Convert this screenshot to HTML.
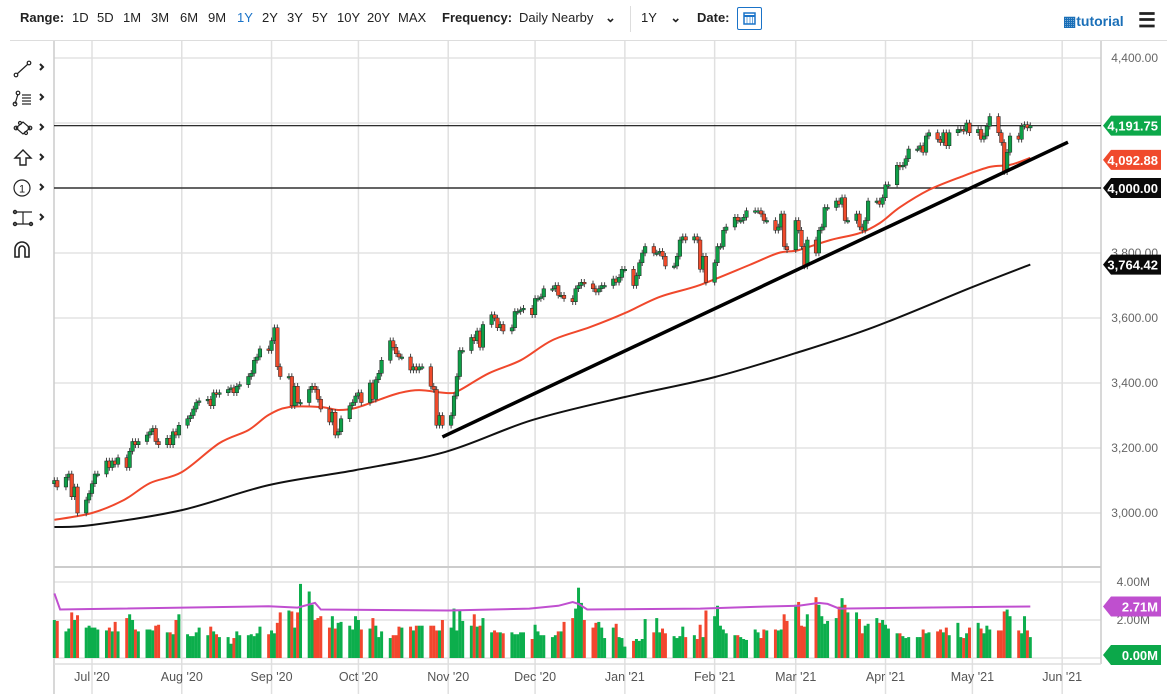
<!DOCTYPE html>
<html><head><meta charset="utf-8"><style>
body{margin:0;background:#fff;width:1167px;height:694px;overflow:hidden;font-family:"Liberation Sans Narrow","Liberation Sans",sans-serif;}
#wrap{position:relative;width:1167px;height:694px;}
.tb{position:absolute;top:10px;font-size:13px;color:#222;}
.b{font-weight:bold;}
svg text{font-family:"Liberation Sans Narrow","Liberation Sans",sans-serif;}
</style></head><body><div id="wrap">
<div class="tb b" style="left:20px">Range:</div>
<div class="tb" style="left:72px">1D</div>
<div class="tb" style="left:97px">5D</div>
<div class="tb" style="left:123px">1M</div>
<div class="tb" style="left:151px">3M</div>
<div class="tb" style="left:180px">6M</div>
<div class="tb" style="left:208px">9M</div>
<div class="tb" style="left:237px;color:#1a73c8">1Y</div>
<div class="tb" style="left:262px">2Y</div>
<div class="tb" style="left:287px">3Y</div>
<div class="tb" style="left:312px">5Y</div>
<div class="tb" style="left:337px">10Y</div>
<div class="tb" style="left:367px">20Y</div>
<div class="tb" style="left:398px">MAX</div>
<div class="tb b" style="left:442px">Frequency:</div>
<div class="tb" style="left:519px">Daily Nearby <span style="margin-left:8px;font-weight:bold">&#8964;</span></div>
<div style="position:absolute;left:630px;top:6px;width:1px;height:26px;background:#ddd"></div>
<div class="tb" style="left:641px">1Y <span style="margin-left:10px;font-weight:bold">&#8964;</span></div>
<div class="tb b" style="left:697px">Date:</div>
<div style="position:absolute;left:737px;top:7px;width:25px;height:23px;border:1px solid #1a73c8;border-radius:2px;box-sizing:border-box">
<svg width="23" height="21"><rect x="6" y="5" width="11" height="11" fill="none" stroke="#1a73c8" stroke-width="1.5"/><line x1="6" y1="8" x2="17" y2="8" stroke="#1a73c8" stroke-width="2"/><line x1="9" y1="8" x2="9" y2="16" stroke="#1a73c8" stroke-width=".6"/><line x1="12" y1="8" x2="12" y2="16" stroke="#1a73c8" stroke-width=".6"/><line x1="14.5" y1="8" x2="14.5" y2="16" stroke="#1a73c8" stroke-width=".6"/></svg></div>
<div class="tb b" style="left:1063px;top:13px;color:#1a6fb8;font-size:14px">&#9638;tutorial</div>
<div class="tb b" style="left:1138px;top:8px;font-size:20px">&#9776;</div>
<div style="position:absolute;left:10px;top:40px;width:1157px;height:1px;background:#ddd"></div>
<svg id="tools" style="position:absolute;left:0;top:0" width="54" height="694">
<g stroke="#222" fill="none" stroke-width="1.2">
<g><line x1="17" y1="74" x2="28" y2="64"/><circle cx="16" cy="75" r="1.8"/><circle cx="29" cy="63" r="1.8"/><path d="M40 64 l3 3 -3 3" stroke-width="2"/></g>
<g><line x1="15" y1="104" x2="18" y2="94"/><circle cx="15" cy="104" r="1.8"/><circle cx="18" cy="93" r="1.8"/><line x1="22" y1="95" x2="31" y2="95"/><line x1="22" y1="98" x2="31" y2="98"/><line x1="22" y1="101" x2="31" y2="101"/><line x1="22" y1="104" x2="31" y2="104"/><path d="M40 94 l3 3 -3 3" stroke-width="2"/></g>
<g><path d="M16 128 l7 -6 7 6 -7 6z"/><circle cx="16" cy="128" r="1.8"/><circle cx="30" cy="128" r="1.8"/><circle cx="20" cy="123" r="1.5"/><circle cx="26" cy="133" r="1.5"/><path d="M40 124 l3 3 -3 3" stroke-width="2"/></g>
<g><path d="M23 150 l-8 8 h5 v7 h6 v-7 h5z" stroke-width="1.4"/><path d="M40 154 l3 3 -3 3" stroke-width="2"/></g>
<g><circle cx="22" cy="188" r="8"/><path d="M40 184 l3 3 -3 3" stroke-width="2"/></g>
<g><line x1="14" y1="212" x2="32" y2="212"/><line x1="14" y1="224" x2="32" y2="224"/><line x1="23" y1="212" x2="23" y2="224"/><circle cx="15" cy="212" r="1.6"/><circle cx="15" cy="224" r="1.6"/><circle cx="31" cy="224" r="1.6"/><path d="M40 214 l3 3 -3 3" stroke-width="2"/></g>
<g><path d="M15 257 v-8 a7 7 0 0 1 14 0 v8 h-4 v-8 a3 3 0 0 0 -6 0 v8z" stroke-width="1.6"/></g>
</g>
<text x="18" y="192.5" font-size="11" text-anchor="middle" dx="4" fill="#222">1</text>
</svg>
<svg id="chart" style="position:absolute;left:0;top:0" width="1167" height="694"></svg>
</div>
<script>
// ---- data ----
const closes = [3100,3080,
3110,3120,3050,3080,3000, 3040,3060,3090,3120,3120, 3160,3140,3160,3150,3170, 3140,3190,3220,3210,3220,
3240,3250,3260,3220,3210, 3230,3210,3250,3240,3270, 3290,3300,3320,3340,3345, 3350,3330,3370,3365,3370,
3380,3385,3370,3390,3395, 3420,3430,3470,3480,3505, 3500,3530,3570,3450,3420, 3420,3330,3390,3340,3340,
3380,3390,3380,3350,3320, 3280,3310,3240,3250,3290, 3330,3340,3360,3370,3340, 3400,3350,3410,3430,3470,
3530,3510,3490,3480,3480, 3440,3450,3440,3450,3450, 3390,3380,3270,3300,3270, 3300,3360,3420,3500,3500,
3540,3530,3560,3510,3580, 3610,3600,3570,3580,3560, 3570,3620,3620,3625,3630, 3610,3660,3660,3665,3690,
3690,3700,3670,3670,3660, 3650,3690,3700,3710,3705, 3690,3680,3690,3700,3700, 3720,3710,3725,3750,3750,
3700,3730,3770,3800,3820, 3800,3800,3805,3790,3760, 3760,3790,3840,3850,3840, 3850,3840,3750,3790,3710,
3770,3820,3820,3870,3880, 3910,3900,3900,3910,3930, 3930,3930,3920,3900,3900, 3870,3880,3920,3820,3810,
3900,3870,3820,3760,3840, 3800,3870,3880,3940,3940, 3960,3950,3970,3900,3900, 3920,3880,3870,3900,3960,
3960,3950,3970,4010,4010, 4070,4065,4070,4090,4120, 4120,4130,4110,4160,4170, 4150,4140,4170,4130,4170,
4180,4180,4175,4200,4170, 4180,4150,4160,4190,4220, 4170,4140,4050,4110,4160, 4150,4190,4195,4185,4192];
const volumes = [2.0,1.95,
1.4,1.55,2.4,2.0,2.25, 1.6,1.7,1.6,1.6,1.5, 1.45,1.6,1.4,1.9,1.4, 2.1,2.3,2.0,1.5,1.4,
1.5,1.5,1.45,1.7,1.75, 1.35,1.35,1.25,2.0,2.3, 1.25,1.15,1.15,1.35,1.6, 1.2,1.65,1.4,1.25,1.1,
1.1,0.75,1.05,1.4,1.2, 1.2,1.25,1.15,1.3,1.65, 1.25,1.45,1.3,1.85,2.4, 2.5,2.45,1.6,2.4,3.9,
3.5,2.8,2.0,2.1,2.2, 1.6,2.2,1.55,1.85,1.9, 1.7,1.5,2.2,2.0,1.5, 1.55,2.1,1.7,1.1,1.4,
1.05,1.2,1.2,1.65,1.6, 1.65,1.45,1.7,1.7,1.7, 1.7,1.7,1.45,1.45,2.0, 1.6,2.6,1.45,2.5,1.95,
1.7,2.3,1.65,1.7,2.1, 1.35,1.45,1.35,1.35,1.3, 1.35,1.25,1.25,1.35,1.35, 1.0,1.75,1.4,1.2,1.2,
1.1,1.2,1.4,1.4,1.9, 2.1,2.6,3.7,2.9,2.0, 1.6,1.85,1.9,1.6,1.05, 1.6,1.8,1.1,1.05,0.6,
0.9,1.0,0.9,1.0,2.05, 1.35,2.1,1.35,1.55,1.3, 1.15,1.05,1.15,1.65,1.1, 1.2,1.0,1.75,1.1,2.5,
2.2,2.75,1.7,1.5,1.3, 1.2,1.2,1.1,1.0,0.95, 1.5,1.35,1.05,1.5,1.45, 1.5,1.45,1.5,2.3,1.95,
2.8,2.95,1.7,1.65,2.3, 3.2,2.8,2.2,1.8,1.95, 2.1,2.7,3.15,2.8,2.4, 2.4,2.05,1.3,1.7,1.8,
2.1,1.85,2.0,1.75,1.55, 1.3,1.3,1.15,1.05,1.1, 1.1,1.1,1.5,1.3,1.35, 1.4,1.5,1.35,1.6,1.2,
1.85,1.1,1.05,1.3,1.6, 1.85,1.55,1.3,1.7,1.5, 1.45,1.45,2.45,2.55,2.2, 1.45,1.3,2.2,1.45,1.1];
const ma50Dates = ["2020-06-18","2020-07-01","2020-07-12","2020-07-21","2020-08-01","2020-08-14","2020-08-24","2020-08-31","2020-09-07","2020-09-18","2020-09-24","2020-09-30","2020-10-08","2020-10-15","2020-10-22","2020-11-01","2020-11-05","2020-11-15","2020-11-26","2020-12-07","2020-12-20","2021-01-01","2021-01-13","2021-01-27","2021-02-13","2021-02-23","2021-03-02","2021-03-13","2021-03-23","2021-03-30","2021-04-06","2021-04-16","2021-04-27","2021-05-07","2021-05-14","2021-05-21"];
const ma50 = [2979,3000,3040,3092,3126,3215,3255,3302,3326,3326,3317,3323,3348,3369,3378,3369,3378,3430,3470,3532,3572,3615,3665,3702,3763,3800,3809,3840,3861,3892,3941,3994,4034,4065,4071,4092.88];
const ma200Dates = ["2020-06-18","2020-07-01","2020-08-01","2020-08-31","2020-09-30","2020-10-31","2020-11-30","2021-01-01","2021-02-01","2021-03-01","2021-03-28","2021-05-01","2021-05-21"];
const ma200 = [2957,2963,3009,3086,3132,3188,3286,3357,3418,3492,3572,3695,3764.42];
const volAvgDates = ["2020-06-18","2020-06-20","2020-07-01","2020-08-31","2020-09-10","2020-09-16","2020-09-18","2020-11-01","2020-11-29","2020-12-09","2020-12-14","2020-12-16","2020-12-19","2021-01-27","2021-02-16","2021-03-02","2021-03-09","2021-03-12","2021-03-16","2021-05-10","2021-05-21"];
const volAvg = [3.4,2.55,2.58,2.72,2.65,2.9,2.55,2.5,2.6,2.75,2.95,2.85,2.55,2.6,2.7,2.75,2.9,2.85,2.6,2.7,2.71];
const priceTicks = [3000,3200,3400,3600,3800,4000,4200,4400];
const priceTickLabels = ["3,000.00","3,200.00","3,400.00","3,600.00","3,800.00","","","4,400.00"];
const monthTicks = ["2020-07-01","2020-08-01","2020-09-01","2020-10-01","2020-11-01","2020-12-01","2021-01-01","2021-02-01","2021-03-01","2021-04-01","2021-05-01","2021-06-01"];
const monthLabels = ["Jul '20","Aug '20","Sep '20","Oct '20","Nov '20","Dec '20","Jan '21","Feb '21","Mar '21","Apr '21","May '21","Jun '21"];
const volTicks = [0,2,4];
const volTickLabels = ["","2.00M","4.00M"];
const hLevels = [4191.75,4000];
const trendStart = ["2020-10-30",3234];
const trendEnd = ["2021-06-03",4141];

// ---- scales ----
const T0 = Date.UTC(2020,6,1);
function xD(d){ const t = typeof d==="string" ? Date.parse(d+"T00:00:00Z") : d; return 92 + (t-T0)/86400000*2.896; }
function yP(p){ return 188 + (4000-p)*0.325; }
function yV(m){ return 658 - m*19; }
const svg = document.getElementById('chart');
const NS = "http://www.w3.org/2000/svg";
function mk(tag, attrs, parent){ const e=document.createElementNS(NS,tag); for(const k in attrs) e.setAttribute(k,attrs[k]); (parent||svg).appendChild(e); return e; }

const dates=[]; let t=Date.UTC(2020,5,18);
while(dates.length<closes.length){ const wd=new Date(t).getUTCDay(); if(wd!==0&&wd!==6) dates.push(t); t+=86400000; }

const grid = mk('g',{});


priceTicks.forEach((p,i)=>{ const y=yP(p); if(y<45||y>565) return;
  const l=mk('line',{x1:54,x2:1101,y1:y,y2:y,stroke:'#e3e3e3','stroke-width':1.5},grid);
   
  if(priceTickLabels[i]){ const tx=mk('text',{x:1158,y:y+4,'text-anchor':'end','font-size':12,fill:'#666'}); tx.textContent=priceTickLabels[i];
    }
});
volTicks.forEach((v,i)=>{ const y=yV(v);
  const l=mk('line',{x1:54,x2:1101,y1:y,y2:y,stroke:'#e3e3e3','stroke-width':1.5},grid);
   
  if(volTickLabels[i]){ const tx=mk('text',{x:1150,y:y+4,'text-anchor':'end','font-size':12,fill:'#666'}); tx.textContent=volTickLabels[i];
    }
});
monthTicks.forEach((m,i)=>{ const x=xD(m);
  const l=mk('line',{x1:x,x2:x,y1:41,y2:694,stroke:'#e0e0e0','stroke-width':1.5},grid);
   
  const tx=mk('text',{x:x,y:681,'text-anchor':'middle','font-size':12.5,fill:'#555'}); tx.textContent=monthLabels[i];
   
});
mk('line',{x1:54,x2:54,y1:41,y2:694,stroke:'#ccc','stroke-width':1.5});
mk('line',{x1:1101,x2:1101,y1:41,y2:664,stroke:'#ccc','stroke-width':1.5});
mk('line',{x1:54,x2:1101,y1:567,y2:567,stroke:'#ccc','stroke-width':2});
mk('line',{x1:54,x2:1101,y1:664,y2:664,stroke:'#ddd','stroke-width':1.5});

function pathOf(ds,vs,yf){
  const pts=ds.map((d,i)=>[xD(d),yf(vs[i])]);
  let s='M'+pts[0][0].toFixed(1)+' '+pts[0][1].toFixed(1);
  for(let i=1;i<pts.length;i++){
    const p0=pts[i-2]||pts[i-1], p1=pts[i-1], p2=pts[i], p3=pts[i+1]||p2;
    const c1=[p1[0]+(p2[0]-p0[0])/6,p1[1]+(p2[1]-p0[1])/6], c2=[p2[0]-(p3[0]-p1[0])/6,p2[1]-(p3[1]-p1[1])/6];
    s+=` C${c1[0].toFixed(1)} ${c1[1].toFixed(1)} ${c2[0].toFixed(1)} ${c2[1].toFixed(1)} ${p2[0].toFixed(1)} ${p2[1].toFixed(1)}`;
  }
  return s;
}
function linePath(ds,vs,yf){ return ds.map((d,i)=>(i?'L':'M')+xD(d).toFixed(1)+' '+yf(vs[i]).toFixed(1)).join(' '); }

hLevels.forEach(h=>{ const l=mk('line',{x1:54,x2:1101,y1:yP(h),y2:yP(h),stroke:'#111','stroke-width':1.2});
    });

const m200=mk('path',{d:pathOf(ma200Dates,ma200,yP),fill:'none',stroke:'#111','stroke-width':2});
 
const m50=mk('path',{d:pathOf(ma50Dates,ma50,yP),fill:'none',stroke:'#f0482c','stroke-width':2});
 

const cg=mk('g',{});
 
closes.forEach((c,i)=>{
  const o = i? closes[i-1] : 3090;
  const x=xD(dates[i]); const up=c>=o;
  const hi=Math.max(o,c)+10, lo=Math.min(o,c)-10;
  const w=mk('line',{x1:x,x2:x,y1:yP(hi),y2:yP(lo),stroke:'#444','stroke-width':1},cg);
   
  const top=yP(Math.max(o,c)), h=Math.max(1.5,Math.abs(yP(o)-yP(c)));
  const b=mk('rect',{x:x-1.8,y:top,width:3.6,height:h,fill:up?'#0e9f47':'#ef4a2b',stroke:'#222','stroke-width':0.5},cg);
   
});

const tl=mk('line',{x1:xD(trendStart[0]),y1:yP(trendStart[1]),x2:xD(trendEnd[0]),y2:yP(trendEnd[1]),stroke:'#000','stroke-width':3.5});
 

const vg=mk('g',{});
 
volumes.forEach((v,i)=>{ if(i>=dates.length) return;
  const o=i?closes[i-1]:3090; const up=closes[i]>=o; const x=xD(dates[i]);
  const r=mk('rect',{x:x-1.5,y:yV(v),width:3,height:yV(0)-yV(v),fill:up?'#0cae4c':'#f2462e'},vg);
   
});
const va=mk('path',{d:linePath(volAvgDates,volAvg,yV),fill:'none',stroke:'#c04fd0','stroke-width':2});
 

function tag(y,txt,bg,name){
  const g=mk('g',{});
   
  mk('path',{d:`M1103 ${y} l8 -10 h50 v20 h-50 z`,fill:bg},g);
  const tx=mk('text',{x:1158,y:y+5,'text-anchor':'end','font-size':13,'font-weight':'bold',fill:'#fff'},g); tx.textContent=txt;
}
tag(yP(4191.75),"4,191.75","#0ca84a","last-price-tag");
tag(yP(4092.88)+2,"4,092.88","#f04a2c","ma50-tag");
tag(yP(4000),"4,000.00","#0a0a0a","level-4000-tag");
tag(yP(3764.42),"3,764.42","#0a0a0a","ma200-tag");
tag(yV(2.71),"2.71M","#bf4fcf","volume-average-tag");
tag(yV(0)-3,"0.00M","#0ca84a","volume-last-tag");
</script>
</body></html>
